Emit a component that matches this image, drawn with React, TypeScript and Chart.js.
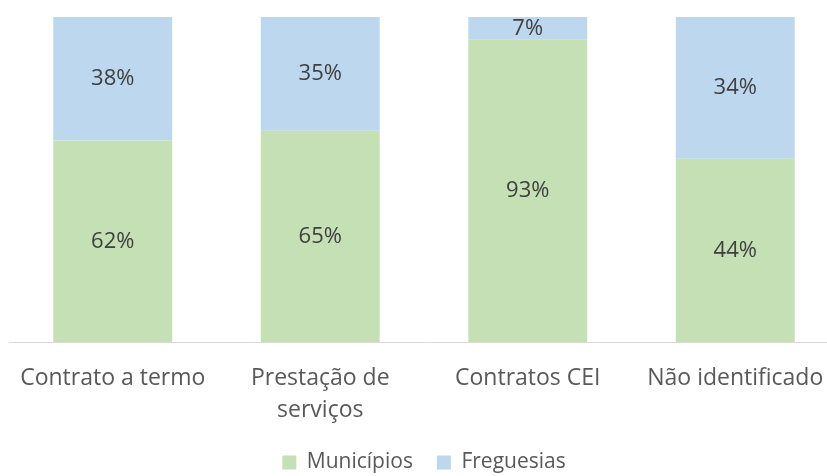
import React, { useEffect, useRef } from "react";
import { Chart, registerables } from "chart.js";

Chart.register(...registerables);

const categories: (string | string[])[] = [
  "Contrato a termo",
  ["Prestação de", "serviços"],
  "Contratos CEI",
  "Não identificado",
];
const municipios = [62, 65, 93, 44];
const freguesias = [38, 35, 7, 34];
const seriesNames = ["Municípios", "Freguesias"];

const FONT = "'Open Sans', sans-serif";

const pct = (a: number[], b: number[]) => a.map((v, i) => (v / (a[i] + b[i])) * 100);

export default function App() {
  const ref = useRef<HTMLCanvasElement>(null);
  useEffect(() => {
    const raw = [municipios, freguesias];
    const labelPlugin = {
      id: "valueLabels",
      afterDatasetsDraw(chart: any) {
        const ctx = chart.ctx;
        ctx.save();
        ctx.font = `22px ${FONT}`;
        ctx.fillStyle = "#404040";
        ctx.textAlign = "center";
        ctx.textBaseline = "middle";
        chart.data.datasets.forEach((ds: any, di: number) => {
          const meta = chart.getDatasetMeta(di);
          meta.data.forEach((el: any, i: number) => {
            const y = (el.y + el.base) / 2;
            ctx.fillText(raw[di][i] + "%", el.x, y);
          });
        });
        ctx.restore();
      },
    };
    const chart = new Chart(ref.current!, {
      type: "bar",
      data: {
        labels: categories,
        datasets: [
          {
            label: seriesNames[0],
            data: pct(municipios, freguesias),
            backgroundColor: "#C5E0B4",
            categoryPercentage: 1,
            barPercentage: 0.573,
          },
          {
            label: seriesNames[1],
            data: pct(freguesias, municipios),
            backgroundColor: "#BDD7EE",
            categoryPercentage: 1,
            barPercentage: 0.573,
          },
        ],
      },
      options: {
        animation: false,
        responsive: false,
        layout: { padding: { top: 17, left: 9, right: 0, bottom: 0 } },
        scales: {
          x: {
            stacked: true,
            grid: { display: false },
            border: { color: "#D9D9D9", width: 1 },
            ticks: {
              color: "#595959",
              font: { family: FONT, size: 23, lineHeight: "32px" as any },
              padding: 12,
              maxRotation: 0,
              autoSkip: false,
            },
            afterFit: (scale: any) => {
              scale.height = 86;
            },
          },
          y: {
            stacked: true,
            display: false,
            min: 0,
            max: 100,
          },
        },
        plugins: {
          legend: {
            position: "bottom",
            labels: {
              color: "#595959",
              font: { family: FONT, size: 21 },
              boxWidth: 14,
              boxHeight: 14,
              padding: 24,
            },
          },
          tooltip: { enabled: false },
        },
      },
      plugins: [labelPlugin],
    });
    return () => chart.destroy();
  }, []);
  return (
    <div style={{ position: "fixed", left: 0, top: 0, width: 839, height: 483, background: "#fff" }}>
      <canvas ref={ref} width={839} height={483} />
    </div>
  );
}
